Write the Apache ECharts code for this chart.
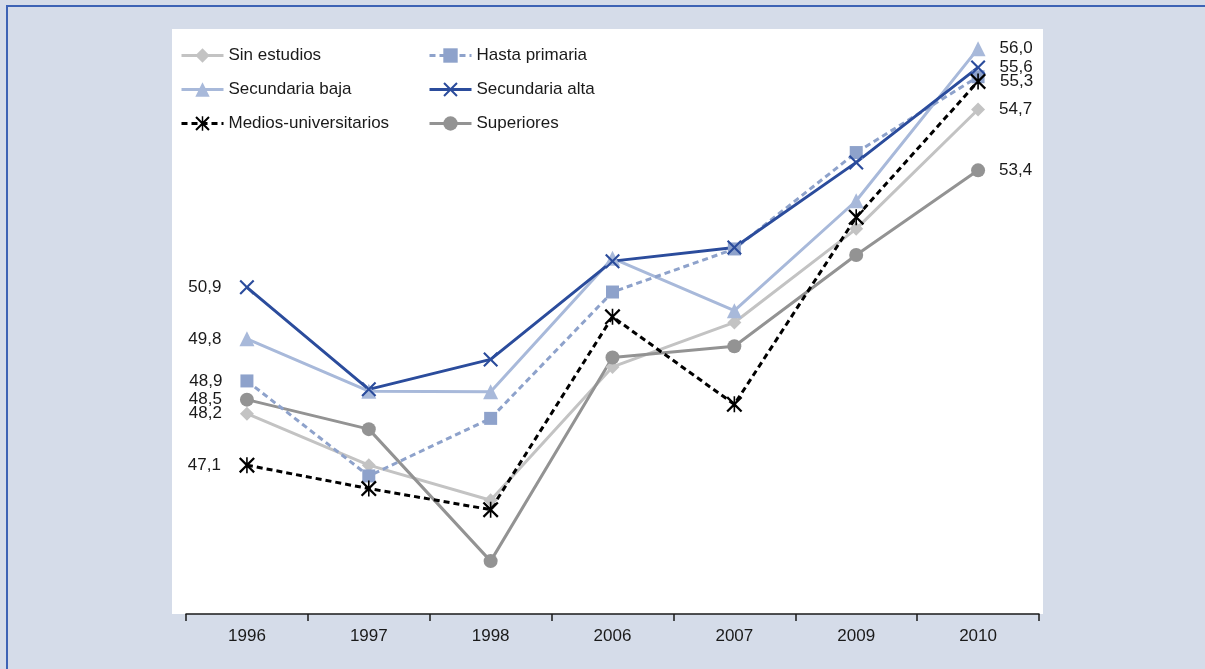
<!DOCTYPE html>
<html>
<head>
<meta charset="utf-8">
<script src="https://cdn.jsdelivr.net/npm/echarts@6/dist/echarts.min.js"></script>
<style>
  html, body { margin: 0; padding: 0; background: #d5dce9; }
  #chart { width: 1205px; height: 669px; }
</style>
</head>
<body>
<div id="chart"></div>
<script>
// categorías (años)
var years = ["1996", "1997", "1998", "2006", "2007", "2009", "2010"];

// valores
var sinEstudios = [48.2, 47.1, 46.35, 49.2, 50.15, 52.15, 54.7];
var hastaPrimaria = [48.9, 46.87, 48.1, 50.8, 51.72, 53.78, 55.4];
var secundariaBaja = [49.8, 48.68, 48.67, 51.52, 50.4, 52.75, 56.0];
var secundariaAlta = [50.9, 48.72, 49.36, 51.46, 51.75, 53.57, 55.6];
var mediosUniv = [47.1, 46.6, 46.15, 50.27, 48.4, 52.4, 55.3];
var superiores = [48.5, 47.87, 45.05, 49.4, 49.64, 51.59, 53.4];

var FONT = '"Liberation Sans", Arial, sans-serif';

var xMark = 'path://M0,2L2,0L10,8L18,0L20,2L12,10L20,18L18,20L10,12L2,20L0,18L8,10Z';
var starMark = 'path://M0,2L2,0L10,8L18,0L20,2L12,10L20,18L18,20L10,12L2,20L0,18L8,10Z M9,0L11,0L11,20L9,20Z';

// etiqueta solo en el primer y último año
function withLabels(vals, lastLabel) {
  return vals.map(function (v, i) {
    var show = i === 0 || (i === vals.length - 1 && lastLabel);
    return {
      value: v,
      label: {
        show: show,
        position: i === 0 ? 'left' : 'right',
        distance: i === 0 ? 18 : 14
      }
    };
  });
}

function serie(name, vals, color, symbol, size, dashed, lastLabel) {
  return {
    name: name,
    type: 'line',
    data: withLabels(vals, lastLabel),
    symbol: symbol,
    symbolSize: size,
    lineStyle: { color: color, width: 3, type: dashed ? [6, 4] : 'solid' },
    itemStyle: { color: color },
    label: {
      fontFamily: FONT,
      fontSize: 17,
      color: '#1a1a1a',
      formatter: function (p) { return p.value.toFixed(1).replace('.', ','); }
    },
    emphasis: { disabled: true },
    animation: false
  };
}

var legendBase = {
  orient: 'vertical', top: 42,
  itemWidth: 42, itemHeight: 18, itemGap: 17, itemTextGap: 15,
  lineStyle: { width: 3 },
  textStyle: { fontSize: 17, color: '#1a1a1a', fontFamily: FONT }
};

var chart = echarts.init(document.getElementById('chart'));
chart.setOption({
  backgroundColor: '#d5dce9',
  textStyle: { fontFamily: FONT },
  graphic: [
    {
      type: 'rect', z: -10,
      shape: { x: 7, y: 6, width: 1300, height: 800 },
      style: { fill: '#d5dce9', stroke: '#3d63b5', lineWidth: 2 }
    },
    {
      type: 'rect', z: -9,
      shape: { x: 172, y: 29, width: 871, height: 585 },
      style: { fill: '#ffffff' }
    }
  ],
  legend: [
    Object.assign({}, legendBase, {
      left: 175,
      data: ['Sin estudios', 'Secundaria baja', 'Medios-universitarios']
    }),
    Object.assign({}, legendBase, {
      left: 423,
      data: ['Hasta primaria', 'Secundaria alta', 'Superiores']
    })
  ],
  grid: { left: 186, right: 166, top: 29, bottom: 55, containLabel: false },
  xAxis: {
    type: 'category',
    data: years,
    boundaryGap: true,
    axisLine: { lineStyle: { color: '#1a1a1a', width: 1.5 } },
    axisTick: { show: true, length: 7, lineStyle: { color: '#1a1a1a', width: 1.5 } },
    axisLabel: { fontSize: 17, color: '#1a1a1a', margin: 14, fontFamily: FONT }
  },
  yAxis: {
    type: 'value', min: 43.92, max: 56.42,
    show: false
  },
  series: [
    serie('Sin estudios', sinEstudios, '#c3c3c3', 'diamond', 14, false, true),
    serie('Superiores', superiores, '#939393', 'circle', 14, false, true),
    serie('Secundaria baja', secundariaBaja, '#a8b9da', 'triangle', 15, false, true),
    serie('Hasta primaria', hastaPrimaria, '#8ea2cb', 'rect', 13, true, false),
    serie('Secundaria alta', secundariaAlta, '#2b4c9c', xMark, 15, false, true),
    serie('Medios-universitarios', mediosUniv, '#000000', starMark, 16, true, true)
  ]
});
</script>
</body>
</html>
